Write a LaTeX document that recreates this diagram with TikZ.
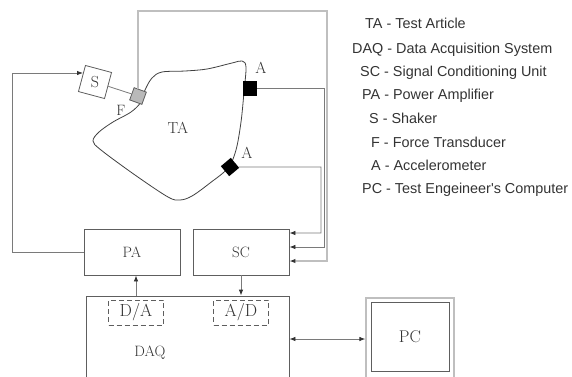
\documentclass[tikz,border=0pt]{standalone}
\usepackage{fontspec}
\newfontfamily\legendfont{Liberation Sans}
\usetikzlibrary{arrows.meta}
\definecolor{boxgray}{HTML}{5E5E5E}
\definecolor{wiregray}{HTML}{7A7A7A}
\definecolor{txt}{HTML}{333333}
\begin{document}
\begin{tikzpicture}[x=1pt,y=-1pt,
  box/.style={draw=boxgray, line width=0.8pt, inner sep=0pt, text=txt},
  dbox/.style={draw=boxgray, line width=0.8pt, dash pattern=on 5pt off 3pt, inner sep=0pt, text=txt},
  wire/.style={draw=wiregray, line width=0.8pt},
  fwire/.style={draw=gray!50, line width=1.4pt},
  arr/.style={-{Latex[length=6pt,width=4.5pt,color=black!80]}},
  darr/.style={{Latex[length=6pt,width=4.5pt,color=black!80]}-{Latex[length=6pt,width=4.5pt,color=black!80]}},
  lbl/.style={text=txt, inner sep=0pt},
  legend/.style={anchor=base west, inner sep=0pt, text=black!80, font=\legendfont\fontsize{14.4}{17}\selectfont}
]
\useasboundingbox (0,0) rectangle (572,376);
\clip (0,0) rectangle (572,376);

% test article blob
\draw[draw=black!75, line width=0.8pt] plot[smooth cycle, tension=0.55] coordinates {
  (145,90) (152,78) (162,72) (185,71) (207,69) (232,63) (242,61) (246,67)
  (244,92) (241,122) (236,150) (228,168) (210,183) (192,196) (180,200)
  (168,197) (135,175) (101,150) (93,141) (99,132) (113,122) (131,112) (141,102)};
\node[lbl, font=\fontsize{16}{19}\selectfont] (TAl) at (178,128) {TA};

% shaker and force transducer
\node[box, minimum size=27pt, rotate=-15] (S) at (95,82) {};
\node[lbl, font=\fontsize{16}{19}\selectfont] (Sl) at (95,82) {S};
\node[draw=boxgray, fill=gray!55, line width=0.8pt, minimum size=13pt, inner sep=0pt, rotate=-20] (F) at (138,96) {};
\node[lbl, font=\fontsize{15}{18}\selectfont] (Fl) at (121,110) {F};

% accelerometers
\node[fill=black, minimum width=14pt, minimum height=15pt, inner sep=0pt] (A1) at (250,88) {};
\node[lbl, font=\fontsize{16}{19}\selectfont] (A1l) at (261,68) {A};
\node[fill=black, minimum size=13pt, inner sep=0pt, rotate=40] (A2) at (230,167) {};
\node[lbl, font=\fontsize{16}{19}\selectfont] (A2l) at (247,153) {A};

% instruments
\node[box, minimum width=96pt, minimum height=46pt, font=\fontsize{15}{18}\selectfont] (PA) at (132,252) {PA};
\node[box, minimum width=96pt, minimum height=46pt, font=\fontsize{15}{18}\selectfont] (SC) at (241,252) {SC};
\node[box, minimum width=203pt, minimum height=86pt] (DAQ) at (187.5,339) {};
\node[lbl, font=\fontsize{15}{18}\selectfont] (DAQl) at (150,353) {DAQ};
\node[dbox, minimum width=55pt, minimum height=25pt, font=\fontsize{17.5}{20}\selectfont] (DA) at (136,312.5) {D/A};
\node[dbox, minimum width=55pt, minimum height=25pt, font=\fontsize{17.5}{20}\selectfont] (AD) at (241,312.5) {A/D};
\node[draw=gray!50, line width=1.3pt, minimum width=88pt, minimum height=82pt, inner sep=0pt] (PCo) at (410,339) {};
\node[box, minimum width=78pt, minimum height=69pt, font=\fontsize{17}{20}\selectfont] (PC) at (410,336.5) {PC};

% connectors
\coordinate (Sin) at (83,73);
\draw[wire, arr] (PA.west) -| (12,73) -- (Sin);
\draw[wire] (S) -- (F);
\draw[fwire, arr] (F) |- (327,11) |- ([yshift=-9pt]SC.east);
\draw[wire, arr] (A1) -- (324,88) |- ([yshift=5pt]SC.east);
\draw[wire, arr] (A2) -- (321,167) |- ([yshift=19pt]SC.east);
\draw[wire, arr] (DA.north |- DAQ.north) -- (DA.north |- PA.south);
\draw[wire, arr] (SC.south) -- (SC.south |- DAQ.north);
\draw[wire, darr] (DAQ.east) -- (PCo.west);

% legend
\node[legend] (l1) at (365,28) {TA - Test Article};
\node[legend] (l2) at (352,53) {DAQ - Data Acquisition System};
\node[legend] (l3) at (360,76) {SC - Signal Conditioning Unit};
\node[legend] (l4) at (362,99) {PA - Power Amplifier};
\node[legend] (l5) at (369,123) {S - Shaker};
\node[legend] (l6) at (371,147) {F - Force Transducer};
\node[legend] (l7) at (371,170) {A - Accelerometer};
\node[legend] (l8) at (362,193) {PC - Test Engeineer's Computer};
\end{tikzpicture}
\end{document}
